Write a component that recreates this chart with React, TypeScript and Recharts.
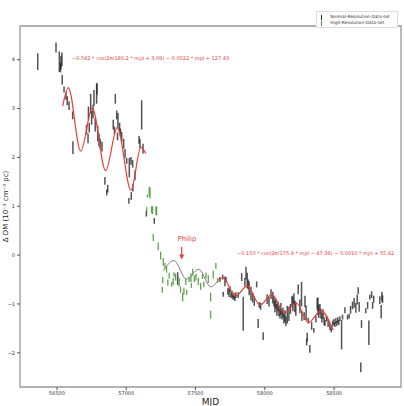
import React from "react"
import {
  ComposedChart,
  Scatter,
  ErrorBar,
  Line,
  XAxis,
  YAxis,
  ReferenceArea,
  ReferenceDot,
  ReferenceLine,
  Legend,
} from "recharts"

// [mjd, dm, err]
const normalSet: number[][] = [
  [56361, 3.96, 0.17], [56493, 4.25, 0.1], [56517, 3.96, 0.21], [56525, 3.84, 0.1],
  [56529, 3.94, 0.14], [56536, 4.01, 0.14], [56538, 3.59, 0.1], [56551, 3.39, 0.06],
  [56565, 3.26, 0.08], [56574, 3.16, 0.09], [56587, 3.06, 0.09], [56613, 2.86, 0.08],
  [56615, 2.2, 0.13], [56713, 2.57, 0.1], [56724, 2.39, 0.1], [56727, 2.9, 0.14],
  [56733, 2.61, 0.1], [56743, 3.1, 0.2], [56750, 2.81, 0.14], [56760, 2.94, 0.14],
  [56767, 3.22, 0.16], [56776, 2.67, 0.14], [56786, 3.3, 0.2], [56789, 3.41, 0.12],
  [56794, 2.49, 0.16], [56803, 2.36, 0.13], [56812, 2.28, 0.1], [56825, 2.22, 0.1],
  [56846, 1.52, 0.08], [56859, 1.28, 0.06], [56866, 1.36, 0.08], [56906, 2.67, 0.1],
  [56915, 2.55, 0.08], [56921, 3.2, 0.1], [56931, 2.87, 0.09], [56937, 2.43, 0.08],
  [56940, 2.75, 0.16], [56952, 2.61, 0.1], [56958, 2.51, 0.08], [56967, 2.42, 0.1],
  [56981, 2.28, 0.1], [56991, 2.08, 0.09], [57003, 1.93, 0.06], [57019, 1.11, 0.06],
  [57022, 1.79, 0.2], [57034, 1.93, 0.08], [57036, 1.21, 0.08], [57046, 1.87, 0.08],
  [57048, 1.38, 0.08], [57063, 1.63, 0.1], [57092, 2.36, 0.08], [57099, 2.28, 0.1],
  [57111, 2.87, 0.3], [57121, 2.18, 0.1], [57145, 0.85, 0.06], [57202, 0.7, 0.06],
  [57371, -0.48, 0.13], [57676, -0.5, 0.05], [57696, -0.45, 0.05], [57700, -0.8, 0.05],
  [57712, -0.54, 0.1], [57720, -0.5, 0.05], [57734, -0.74, 0.07], [57742, -0.78, 0.08],
  [57748, -0.7, 0.06], [57756, -0.82, 0.06], [57763, -0.8, 0.07], [57770, -0.86, 0.05],
  [57777, -0.84, 0.07], [57784, -0.88, 0.06], [57791, -0.82, 0.06], [57808, -0.82, 0.06],
  [57833, -0.45, 0.08], [57844, -1.2, 0.35], [57856, -0.55, 0.08], [57864, -0.37, 0.13],
  [57873, -0.52, 0.16], [57880, -0.6, 0.1], [57887, -0.68, 0.14], [57900, -0.79, 0.14],
  [57912, -0.87, 0.1], [57924, -0.94, 0.1], [57941, -0.6, 0.06], [57952, -1.4, 0.09],
  [57960, -1.02, 0.06], [57970, -1.05, 0.07], [57988, -1.66, 0.08], [58017, -0.9, 0.1],
  [58030, -0.95, 0.1], [58045, -0.8, 0.1], [58058, -0.87, 0.12], [58066, -0.95, 0.1],
  [58073, -1.05, 0.12], [58080, -1.0, 0.1], [58087, -1.12, 0.12], [58095, -1.05, 0.1],
  [58102, -1.15, 0.1], [58110, -1.2, 0.1], [58116, -1.1, 0.12], [58124, -1.22, 0.1],
  [58131, -1.18, 0.1], [58138, -1.3, 0.1], [58145, -1.25, 0.12], [58152, -1.35, 0.1],
  [58162, -1.22, 0.18], [58174, -1.2, 0.15], [58185, -1.1, 0.1], [58196, -0.95, 0.12],
  [58203, -1.0, 0.15], [58210, -0.9, 0.12], [58217, -1.05, 0.12], [58224, -1.1, 0.14],
  [58241, -0.7, 0.1], [58253, -1.05, 0.14], [58265, -0.8, 0.25], [58268, -1.25, 0.1],
  [58284, -1.25, 0.08], [58290, -0.95, 0.12], [58298, -1.18, 0.15], [58302, -1.78, 0.07],
  [58306, -1.68, 0.09], [58313, -1.34, 0.06], [58325, -1.92, 0.08], [58338, -1.45, 0.08],
  [58354, -1.54, 0.05], [58369, -1.31, 0.07], [58378, -1.0, 0.12], [58383, -1.05, 0.18],
  [58390, -1.15, 0.14], [58398, -1.1, 0.1], [58405, -1.2, 0.1], [58412, -1.28, 0.1],
  [58421, -1.21, 0.1], [58428, -1.35, 0.08], [58434, -1.39, 0.06], [58445, -1.3, 0.06],
  [58457, -1.39, 0.08], [58470, -1.47, 0.07], [58480, -1.52, 0.06], [58490, -1.4, 0.06],
  [58499, -1.37, 0.06], [58506, -1.42, 0.05], [58513, -1.35, 0.06], [58520, -1.4, 0.05],
  [58527, -1.33, 0.06], [58534, -1.38, 0.05], [58542, -1.3, 0.05], [58554, -1.63, 0.3],
  [58561, -1.27, 0.05], [58578, -1.13, 0.06], [58597, -1.27, 0.05], [58609, -1.25, 0.05],
  [58619, -1.12, 0.08], [58633, -1.03, 0.08], [58645, -0.98, 0.1], [58657, -1.08, 0.1],
  [58667, -0.91, 0.1], [58674, -0.73, 0.07], [58681, -1.06, 0.1], [58693, -2.3, 0.1],
  [58698, -1.41, 0.08], [58729, -1.14, 0.05], [58742, -1.03, 0.07], [58751, -1.59, 0.25],
  [58758, -0.86, 0.05], [58771, -0.81, 0.07], [58778, -1.03, 0.07], [58786, -0.9, 0.07],
  [58830, -0.92, 0.08], [58840, -1.16, 0.14], [58845, -0.85, 0.1], [58850, -0.9, 0.08],
]

const highSet: number[][] = [
  [57147, 0.93, 0.05], [57152, 1.21, 0.03], [57166, 1.3, 0.1], [57171, 1.27, 0.11],
  [57183, 0.93, 0.07], [57190, 0.92, 0.08], [57195, 0.36, 0.07], [57214, 0.91, 0.09],
  [57219, 0.9, 0.09], [57231, 0.18, 0.08], [57248, -0.01, 0.08], [57260, -0.71, 0.06],
  [57263, -0.51, 0.06], [57267, -0.14, 0.08], [57279, -0.22, 0.06], [57291, -0.29, 0.07],
  [57300, -0.56, 0.06], [57310, -0.42, 0.06], [57328, -0.6, 0.05], [57339, -0.54, 0.07],
  [57345, -0.4, 0.05], [57356, -0.45, 0.07], [57382, -0.56, 0.09], [57392, -0.71, 0.06],
  [57407, -0.86, 0.09], [57416, -0.74, 0.07], [57430, -0.55, 0.06], [57436, -0.76, 0.05],
  [57454, -0.5, 0.05], [57467, -0.46, 0.09], [57470, -0.62, 0.05], [57479, -0.35, 0.07],
  [57491, -0.48, 0.07], [57503, -0.45, 0.07], [57520, -0.54, 0.07], [57537, -0.64, 0.07],
  [57550, -0.44, 0.05], [57560, -0.6, 0.06], [57575, -0.42, 0.06], [57592, -0.49, 0.08],
  [57609, -0.86, 0.09], [57609, -1.22, 0.08], [57628, -0.4, 0.08], [57647, -0.22, 0.06],
  [57659, -0.52, 0.05],
]

// fitted curves at peaks / troughs
const fitEarly: number[][] = [
  [56541, 3.05], [56582, 3.43], [56671, 2.13], [56755, 3.01], [56851, 1.73],
  [56935, 2.61], [57034, 1.33], [57106, 2.21], [57140, 2.08],
]
const fitGray: number[][] = [
  [57267, -0.33], [57344, -0.11], [57434, -0.49], [57522, -0.29], [57611, -0.65], [57664, -0.51],
]
const fitLate: number[][] = [
  [57664, -0.51], [57698, -0.46], [57787, -0.84], [57874, -0.63], [57965, -1.02],
  [58051, -0.81], [58142, -1.18], [58228, -0.98], [58315, -1.38], [58405, -1.14], [58494, -1.54],
]

const xTicks = [56500, 57000, 57500, 58000, 58500]
const yTicks = [-2, -1, 0, 1, 2, 3, 4]

const toBars = (rows: number[][]) => rows.map(([mjd, dm, err]) => ({ mjd, dm, err }))
const toCurve = (rows: number[][]) => rows.map(([mjd, dm]) => ({ mjd, dm }))

const FONT = "DejaVu Sans, sans-serif"
const RED = "#e8413c"
const X_DOMAIN = [56233, 58983]
const Y_DOMAIN = [-2.7, 4.69]

const LegendBox = () => (
  <div
    style={{
      width: 82,
      height: 17,
      border: "1px solid #ddd",
      background: "#fff",
      fontFamily: FONT,
      fontSize: 4.3,
      color: "#333",
      lineHeight: "6px",
      padding: "2px 0 0 4px",
      boxSizing: "border-box",
      whiteSpace: "nowrap",
    }}
  >
    {[
      ["Normal-Resolution-Data-set", "#222"],
      ["High-Resolution-Data-set", "#4c9a3c"],
    ].map(([name, c]) => (
      <div key={name} style={{ display: "flex", alignItems: "center", height: 6 }}>
        <span style={{ flex: "none", width: 1.3, height: 5, background: c, marginRight: 8 }} />
        <span>{name}</span>
      </div>
    ))}
  </div>
)

const textAt = (value: string, size: number, anchor = "start") => (p: any) => (
  <text x={p.cx} y={p.cy} fill={RED} fontSize={size} fontFamily={FONT} textAnchor={anchor} dominantBaseline="middle">
    {value}
  </text>
)

const arrowHead = (p: any) => (
  <path d={`M${p.cx - 2.5},${p.cy - 5} L${p.cx + 2.5},${p.cy - 5} L${p.cx},${p.cy} Z`} fill={RED} />
)

export default function App() {
  return (
    <div style={{ position: "absolute", left: 0, top: 0, background: "#fff" }}>
      <ComposedChart width={404} height={406} margin={{ top: 9, right: 3, bottom: 0, left: 0 }}>
        <XAxis
          dataKey="mjd"
          type="number"
          domain={X_DOMAIN}
          ticks={xTicks}
          allowDataOverflow
          height={19}
          tickSize={3}
          tickMargin={1}
          axisLine={false}
          tickLine={{ stroke: "#555" }}
          tick={{ fontSize: 5, fill: "#333", fontFamily: FONT }}
          label={{ value: "MJD", position: "insideBottom", offset: 1, fontSize: 9, fill: "#222", fontFamily: FONT }}
        />
        <YAxis
          dataKey="dm"
          type="number"
          domain={Y_DOMAIN}
          ticks={yTicks}
          allowDataOverflow
          width={20}
          tickSize={3}
          tickMargin={2}
          axisLine={false}
          tickLine={{ stroke: "#555" }}
          tickFormatter={(v: number) => (v < 0 ? `\u2212${-v}` : `${v}`)}
          tick={{ fontSize: 5, fill: "#333", fontFamily: FONT }}
          label={{
            value: "\u0394 DM (10\u207B\u00B3 cm\u207B\u00B3 pc)",
            angle: -90,
            position: "insideLeft",
            offset: 6,
            fontSize: 7,
            fill: "#222",
            fontFamily: FONT,
            style: { textAnchor: "middle" },
          }}
        />
        <ReferenceArea
          x1={X_DOMAIN[0]}
          x2={X_DOMAIN[1]}
          y1={Y_DOMAIN[0]}
          y2={Y_DOMAIN[1]}
          fill="none"
          stroke="#999"
          strokeWidth={1.3}
        />
        <Legend verticalAlign="top" align="right" content={LegendBox} wrapperStyle={{ top: 11, left: 316, width: 82 }} />
        <Scatter name="Normal-Resolution-Data-set" data={toBars(normalSet)} shape={() => <g />} isAnimationActive={false}>
          <ErrorBar dataKey="err" direction="y" width={0} stroke="#1a1a1a" strokeOpacity={0.75} strokeWidth={1.5} />
        </Scatter>
        <Scatter name="High-Resolution-Data-set" data={toBars(highSet)} shape={() => <g />} isAnimationActive={false}>
          <ErrorBar dataKey="err" direction="y" width={0} stroke="#4c9a3c" strokeOpacity={0.9} strokeWidth={1.3} />
        </Scatter>
        <Line data={toCurve(fitEarly)} dataKey="dm" type="monotone" stroke={RED} strokeWidth={1.2} dot={false} isAnimationActive={false} legendType="none" />
        <Line data={toCurve(fitGray)} dataKey="dm" type="monotone" stroke="#808080" strokeWidth={1} dot={false} isAnimationActive={false} legendType="none" />
        <Line data={toCurve(fitLate)} dataKey="dm" type="monotone" stroke={RED} strokeWidth={1.2} dot={false} isAnimationActive={false} legendType="none" />
        <ReferenceDot
          x={56608}
          y={4.02}
          r={1}
          shape={textAt("\u22120.542 * cos(2\u03C0/180.2 * mjd + 3.09) \u2212 0.0022 * mjd + 127.43", 5)}
        />
        <ReferenceDot
          x={57800}
          y={0.03}
          r={1}
          shape={textAt("\u22120.150 * cos(2\u03C0/175.9 * mjd \u2212 47.36) \u2212 0.0010 * mjd + 55.42", 5)}
        />
        <ReferenceDot x={57438} y={0.33} r={1} shape={textAt("Philip", 7, "middle")} />
        <ReferenceLine
          segment={[
            { x: 57400, y: 0.17 },
            { x: 57400, y: -0.02 },
          ]}
          stroke={RED}
          strokeWidth={1.2}
        />
        <ReferenceDot x={57400} y={-0.09} r={1} shape={arrowHead} />
      </ComposedChart>
    </div>
  )
}
